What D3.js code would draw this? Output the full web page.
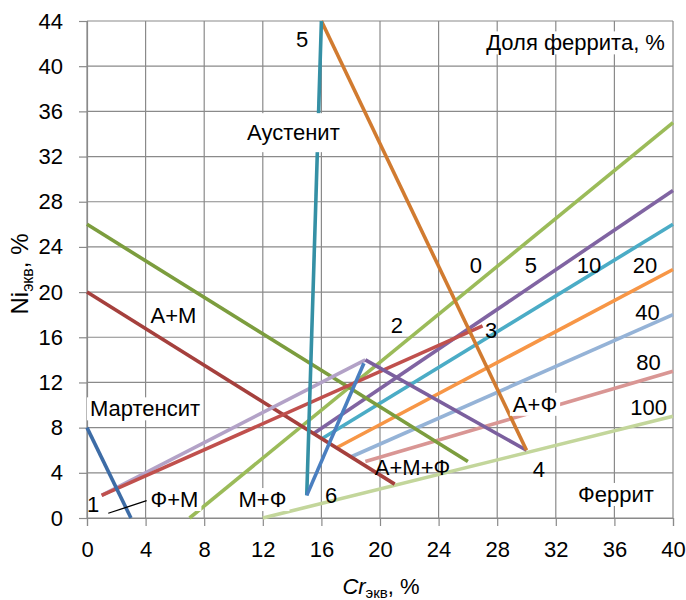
<!DOCTYPE html>
<html>
<head>
<meta charset="utf-8">
<script src="https://cdn.jsdelivr.net/npm/d3@7/dist/d3.min.js"></script>
<style>
  html, body { margin: 0; padding: 0; background: #fff; }
  svg { display: block; }
  text { font-family: "Liberation Sans Narrow", "Arial Narrow", "Liberation Sans", Arial, sans-serif; fill: #000; }
</style>
</head>
<body>
<svg id="chart" width="686" height="600"></svg>
<script>
// Schaeffler-type constitution diagram: Cr-equivalent vs Ni-equivalent.

// Axis ticks
const xTicks = [0, 4, 8, 12, 16, 20, 24, 28, 32, 36, 40];
const yTicks = [0, 4, 8, 12, 16, 20, 24, 28, 32, 36, 40, 44];

// Phase boundary lines, [Cr_eq, Ni_eq]
const martensiteLimit = [[0, 8], [3, 0]];
const amLower = [[0, 20], [21, 3]];
const amUpper = [[0, 26], [26, 5]];
const line13 = [[1, 2], [27, 17]];
const line12 = [[1, 2], [19, 14]];
const line24 = [[19, 14], [30, 6]];
const line54 = [[16, 44], [30, 6]];
const line56 = [[16, 44], [15, 2]];
const line62 = [[15, 2], [18.9, 13.7]];
const leaderLine = [[1.45, 0.42], [4.07, 1.53]];

// Iso-ferrite lines (ferrite fraction, %)
const ferriteLabels = ["0", "5", "10", "20", "40", "80", "100"];
const ferriteStart = [[7, 0], [15.5, 7.5], [16, 7], [17, 6.2], [18, 5.4], [19, 5], [12, 0]];
const ferriteEnd = [[40, 35], [40, 29], [40, 26], [40, 22], [40, 18], [40, 13], [40, 9]];
const ferriteColors = ["#9bbb59", "#8064a2", "#4bacc6", "#f79646", "#95b3d7", "#d99694", "#c3d69b"];

// Text annotations placed in data units (pad = extra box margin; box = white backing)
const regionLabels = [
  { t: "Доля феррита, %", x: 39.45, y: 41.4, a: "end", pad: 0, box: true },
  { t: "Аустенит", x: 10.92, y: 33.45, a: "start", pad: 8, box: true },
  { t: "А+М", x: 5.9, y: 17.26, a: "middle", pad: 0, box: true },
  { t: "Мартенсит", x: 0.2, y: 9.0, a: "start", pad: 0, box: true },
  { t: "А+Ф", x: 30.58, y: 9.4, a: "middle", pad: 0, box: true },
  { t: "А+М+Ф", x: 22.22, y: 3.8, a: "middle", pad: 0, box: false },
  { t: "Ф+М", x: 5.97, y: 0.97, a: "middle", pad: 0, box: true },
  { t: "М+Ф", x: 11.98, y: 0.97, a: "middle", pad: 0, box: true },
  { t: "Феррит", x: 36.1, y: 1.42, a: "middle", pad: 0, box: true }
];
const pointLabels = [
  { t: "1", x: 0.41, y: 0.53 },
  { t: "2", x: 21.16, y: 16.4 },
  { t: "3", x: 27.58, y: 15.9 },
  { t: "4", x: 30.85, y: 3.6 },
  { t: "5", x: 14.68, y: 41.7 },
  { t: "6", x: 16.66, y: 1.33 }
];
const ferriteLabelPos = [[26.55, 21.7], [30.3, 21.7], [34.27, 21.7], [38.09, 21.7], [38.26, 17.5], [38.33, 13.1], [38.33, 9.1]];

const svg = d3.select("#chart");
const margin = { left: 87, top: 21, right: 13, bottom: 82 };
const W = 686 - margin.left - margin.right;
const H = 600 - margin.top - margin.bottom;

const x = d3.scaleLinear().domain([0, 40]).range([0, W]);
const y = d3.scaleLinear().domain([0, 44]).range([H, 0]);

const g = svg.append("g").attr("transform", `translate(${margin.left},${margin.top})`);
const gridColor = "#8a8a8a";

// Grid
g.append("g").selectAll("line").data(xTicks).join("line")
  .attr("x1", d => x(d)).attr("x2", d => x(d)).attr("y1", 0).attr("y2", H)
  .attr("stroke", gridColor).attr("stroke-width", 1.2);
g.append("g").selectAll("line").data(yTicks).join("line")
  .attr("x1", 0).attr("x2", W).attr("y1", d => y(d)).attr("y2", d => y(d))
  .attr("stroke", gridColor).attr("stroke-width", 1.2);

// Axes
const xAxis = g.append("g").attr("transform", `translate(0,${H})`)
  .call(d3.axisBottom(x).tickValues(xTicks).tickSize(8).tickPadding(15.4).tickFormat(d3.format("d")));
const yAxis = g.append("g")
  .call(d3.axisLeft(y).tickValues(yTicks).tickSize(8).tickPadding(16).tickFormat(d3.format("d")));
[xAxis, yAxis].forEach(ax => {
  ax.attr("font-family", null);
  ax.select(".domain").attr("stroke", gridColor).attr("stroke-width", 1.2);
  ax.selectAll(".tick line").attr("stroke", gridColor).attr("stroke-width", 1.2);
  ax.selectAll(".tick text").attr("font-size", 22).attr("fill", "#000");
});

// Lines
const line = d3.line().x(d => x(d[0])).y(d => y(d[1]));
const plot = g.append("g").attr("fill", "none").attr("stroke-linecap", "butt");

function drawLine(pts, color, width) {
  plot.append("path").attr("d", line(pts)).attr("stroke", color)
    .attr("stroke-width", width || 3.6);
}

// iso-ferrite lines first, highest ferrite at the back
for (let i = ferriteLabels.length - 1; i >= 0; i--) {
  drawLine([ferriteStart[i], ferriteEnd[i]], ferriteColors[i]);
}
drawLine(amUpper, "#7c9d3e");
drawLine(amLower, "#a5403d");
drawLine(line12, "#b3a2c7");
drawLine(line13, "#c0504d");
drawLine(line24, "#7b5f9e");
drawLine(line54, "#d17b30");
drawLine(line56, "#3590a5");
drawLine(line62, "#4a7fc0");
drawLine(martensiteLimit, "#3d6ca6");
drawLine(leaderLine, "#000", 1.3);

// Region labels, most on white boxes
const fs = 22;
const labels = g.append("g");
regionLabels.forEach(l => {
  const grp = labels.append("g");
  const bx = x(l.x), by = y(l.y);
  const txt = grp.append("text").attr("x", bx).attr("y", by)
    .attr("text-anchor", l.a).attr("font-size", fs).text(l.t);
  if (!l.box) return;
  const bb = txt.node().getBBox();
  const top = by - 19 - l.pad;
  const bottom = by + 4 + l.pad;
  grp.insert("rect", "text").attr("x", bb.x - 3).attr("y", top)
    .attr("width", bb.width + 6).attr("height", bottom - top).attr("fill", "#fff");
});
pointLabels.forEach(l => {
  labels.append("text").attr("x", x(l.x)).attr("y", y(l.y))
    .attr("text-anchor", "middle").attr("font-size", fs).text(l.t);
});
ferriteLabels.forEach((t, i) => {
  labels.append("text").attr("x", x(ferriteLabelPos[i][0])).attr("y", y(ferriteLabelPos[i][1]))
    .attr("text-anchor", "middle").attr("font-size", fs).text(t);
});

// Axis titles
const xt = svg.append("text").attr("x", 381).attr("y", 594).attr("text-anchor", "middle").attr("font-size", 22);
xt.append("tspan").attr("font-style", "italic").text("Cr");
xt.append("tspan").attr("font-size", 15).attr("dy", 4).text("экв");
xt.append("tspan").attr("dy", -4).text(", %");

const yt = svg.append("text").attr("transform", "translate(28,274) rotate(-90)")
  .attr("text-anchor", "middle").attr("font-size", 24);
yt.append("tspan").text("Ni");
yt.append("tspan").attr("font-size", 16).attr("dy", 5).text("экв");
yt.append("tspan").attr("dy", -5).text(", %");
</script>
</body>
</html>
